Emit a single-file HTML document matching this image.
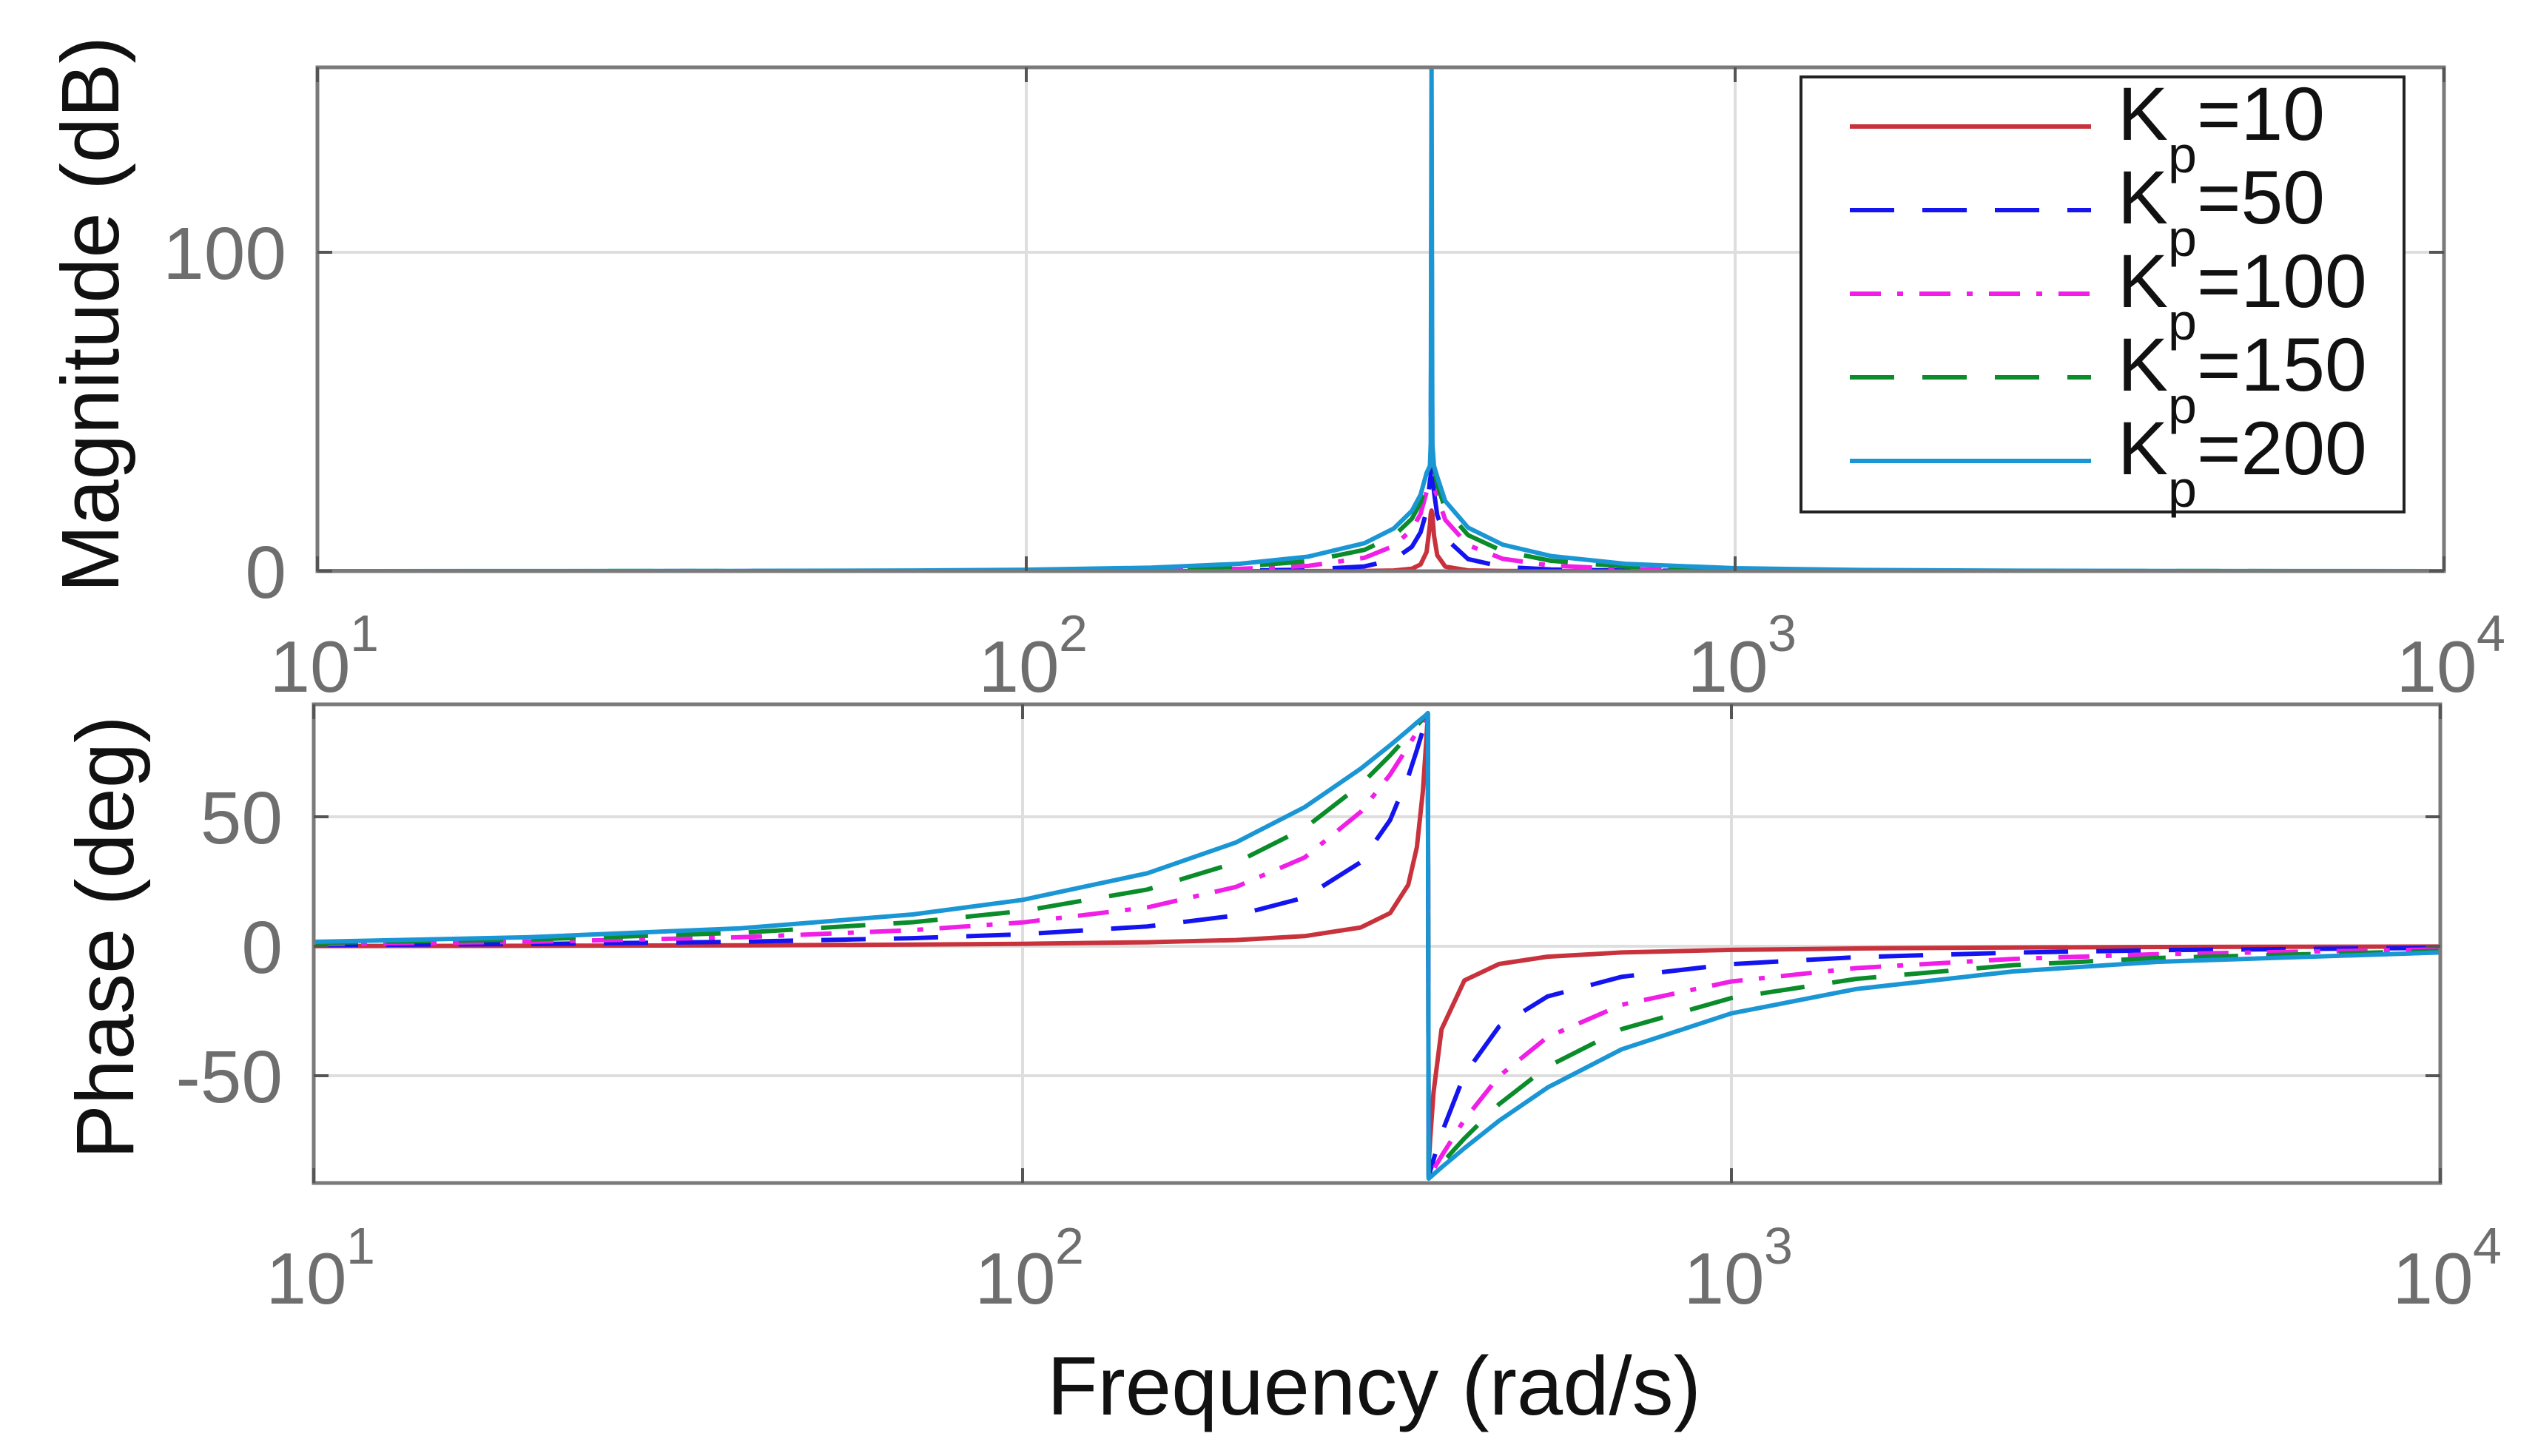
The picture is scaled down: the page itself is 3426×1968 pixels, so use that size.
<!DOCTYPE html>
<html><head><meta charset="utf-8"><style>
html,body{margin:0;padding:0;background:#fff;}
svg{display:block;}
text{font-family:"Liberation Sans",Arial,sans-serif;}
</style></head><body>
<svg id="chart" width="3426" height="1968" viewBox="0 0 3426 1968" xmlns="http://www.w3.org/2000/svg">
<defs>
<clipPath id="clipMag"><rect x="429" y="91" width="2874" height="681"/></clipPath>
<clipPath id="clipPh"><rect x="424" y="952" width="2874" height="647"/></clipPath>
</defs>
<g id="magAxes"></g>
<g id="phAxes"></g>
<text x="0" y="0" font-size="110" fill="#111" text-anchor="middle" transform="translate(160,425) rotate(-90)">Magnitude (dB)</text>
<text x="0" y="0" font-size="110" fill="#111" text-anchor="middle" transform="translate(180,1267) rotate(-90)">Phase (deg)</text>
<text x="1857" y="1912" font-size="112" fill="#111" text-anchor="middle">Frequency (rad/s)</text>
<g id="legend"></g>
</svg>
<script>
// ---- data ----
const freqs = [10,20,40,70,100,150,200,250,300,330,350,360,367,371,372,373,374,376,380,390,420,470,550,700,1000,1500,2500,4000,10000];
const seriesNames = ["Kp=10","Kp=50","Kp=100","Kp=150","Kp=200"];
const kpLabels = ["10","50","100","150","200"];
const magKp10  = [0,0,0,0,0,0,0.01,0.02,0.07,0.22,0.77,2.1,6.0,14.5,18,19,18,11.2,5.0,1.44,0.23,0.06,0.02,0.01,0,0,0,0,0];
const magKp50  = [0,0,0,0.01,0.03,0.08,0.19,0.48,1.48,3.62,7.66,12.2,18.8,28.3,30,130,30,24.9,17.6,10.4,3.78,1.34,0.51,0.18,0.06,0.03,0.01,0,0];
const magKp100 = [0,0,0.02,0.05,0.11,0.30,0.71,1.65,4.19,7.92,13.08,18.0,24.8,26,27,27,27,26,23.6,16.1,8.16,3.88,1.75,0.70,0.25,0.09,0.03,0.01,0];
const magKp150 = [0,0.01,0.04,0.11,0.25,0.65,1.46,3.11,6.68,11.04,16.48,21.5,28.3,33,33,33,33,33,27.1,19.5,11.3,6.28,3.25,1.43,0.54,0.21,0.07,0.03,0];
const magKp200 = [0,0.02,0.06,0.2,0.43,1.10,2.33,4.56,8.76,13.38,18.94,23.97,30.8,33,40,160,40,33,29.6,22.0,13.65,8.30,4.74,2.29,0.92,0.37,0.13,0.05,0.01];
const phKp10  = [0.09,0.17,0.35,0.62,0.93,1.54,2.41,3.90,7.27,12.8,23.7,38.3,59.9,79.1,84.5,88,-84.5,-74.0,-56.4,-32.1,-13.2,-6.85,-4.02,-2.39,-1.39,-0.85,-0.49,-0.30,-0.12];
const phKp50  = [0.43,0.86,1.74,3.12,4.62,7.65,11.9,18.8,32.5,48.7,65.5,75.8,83.4,87.8,88.9,90,-88.9,-86.7,-82.4,-72.3,-49.6,-31.0,-19.4,-11.8,-6.92,-4.24,-2.45,-1.51,-0.60];
const phKp100 = [0.86,1.72,3.48,6.22,9.19,15.0,22.9,34.3,51.9,66.3,77.2,82.8,86.7,88.9,89.4,90,-89.5,-88.4,-86.2,-81.0,-67.0,-50.2,-35.1,-22.6,-13.6,-8.44,-4.88,-3.02,-1.20];
const phKp150 = [1.29,2.59,5.21,9.28,13.6,21.9,32.3,45.6,62.4,73.7,81.4,85.2,87.8,89.3,89.6,90,-89.6,-88.9,-87.5,-83.9,-74.2,-61.0,-46.5,-32.0,-20.0,-12.6,-7.30,-4.52,-1.80];
const phKp200 = [1.72,3.45,6.93,12.3,17.9,28.2,40.1,53.7,68.6,77.6,83.5,86.4,88.3,89.4,89.7,90,-89.7,-89.2,-88.1,-85.4,-78.0,-67.4,-54.6,-39.8,-25.9,-16.5,-9.70,-6.01,-2.40];
const xTickExps = [1,2,3,4];
const magYTicks = [0,100];
const phYTicks = [-50,0,50];

const magSeries = [magKp10,magKp50,magKp100,magKp150,magKp200];
const phSeries = [phKp10,phKp50,phKp100,phKp150,phKp200];
const colors = ["#c8323c","#1414f0","#f01ee6","#0a8c2a","#1a96d4"];
const dashes = ["none","60 38","42 22 8 22","60 38","none"];

const NS="http://www.w3.org/2000/svg";
function mk(tag,attrs,parent){const e=document.createElementNS(NS,tag);for(const k in attrs)e.setAttribute(k,attrs[k]);parent.appendChild(e);return e;}

function xScale(left,right){return f=>left+(Math.log10(f)-1)/3*(right-left);}
const magX = xScale(429,3303);
const phX = xScale(424,3298);
const magY = v=>772 - v*4.31;
const phY = v=>1279 - v*3.5;

function drawAxes(g,box,xs,ys,yTicks,xLabBase,expBase,xArr,yArr,clip,prefix){
  const [L,T,R,B]=box;
  xTickExps.forEach(e=>{const x=xs(Math.pow(10,e));
    const l=mk('line',{x1:x,x2:x,y1:T,y2:B,stroke:'#dedede','stroke-width':4},g);
    
    
  });
  yTicks.forEach(v=>{const y=ys(v);
    const l=mk('line',{x1:L,x2:R,y1:y,y2:y,stroke:'#dedede','stroke-width':4},g);
    
    
  });
  const sg=mk('g',{'clip-path':'url(#'+clip+')'},g);
  yArr.forEach((arr,i)=>{
    const pts=arr.map((v,j)=>xs(freqs[j]).toFixed(1)+','+ys(v).toFixed(1)).join(' ');
    const p=mk('polyline',{points:pts,fill:'none',stroke:colors[i],'stroke-width':6,'stroke-dasharray':dashes[i],'stroke-linejoin':'round'},sg);
    
    
  });
  const fr=mk('rect',{x:L,y:T,width:R-L,height:B-T,fill:'none',stroke:'#7a7a7a','stroke-width':5},g);
  
  
  xTickExps.forEach(e=>{const x=xs(Math.pow(10,e));
    mk('line',{x1:x,x2:x,y1:B,y2:B-20,stroke:'#555','stroke-width':4},g);
    mk('line',{x1:x,x2:x,y1:T,y2:T+20,stroke:'#555','stroke-width':4},g);
    const t=mk('text',{x:x-10,y:xLabBase,'font-size':98,fill:'#6e6e6e','text-anchor':'middle'},g);
    t.textContent='10';
    
    
    const s=mk('text',{x:x+44,y:expBase,'font-size':70,fill:'#6e6e6e'},g);
    s.textContent=String(e);
    
    
  });
  yTicks.forEach(v=>{const y=ys(v);
    mk('line',{x1:L,x2:L+20,y1:y,y2:y,stroke:'#555','stroke-width':4},g);
    mk('line',{x1:R,x2:R-20,y1:y,y2:y,stroke:'#555','stroke-width':4},g);
    const t=mk('text',{x:L-42,y:y+36,'font-size':100,fill:'#6e6e6e','text-anchor':'end'},g);
    t.textContent=String(v);
    
    
  });
}
drawAxes(document.getElementById('magAxes'),[429,91,3303,772],magX,magY,magYTicks,935,880,freqs,magSeries,'clipMag','magnitude');
drawAxes(document.getElementById('phAxes'),[424,952,3298,1599],phX,phY,phYTicks,1762,1708,freqs,phSeries,'clipPh','phase');

const lg=document.getElementById('legend');
const lb=mk('rect',{x:2434,y:104,width:815,height:588,fill:'#fff',stroke:'#222','stroke-width':4},lg);


kpLabels.forEach((k,i)=>{
  const y=171+i*113;
  const l=mk('line',{x1:2500,x2:2826,y1:y,y2:y,stroke:colors[i],'stroke-width':6,'stroke-dasharray':dashes[i]},lg);
  
  
  const t=mk('text',{x:2862,y:y+18,'font-size':102,fill:'#111'},lg);
  
  
  const a=mk('tspan',{},t);a.textContent='K';
  const b=mk('tspan',{'font-size':70,dy:44},t);b.textContent='p';
  const c=mk('tspan',{dy:-44},t);c.textContent='='+k;
});
</script>
</body></html>
